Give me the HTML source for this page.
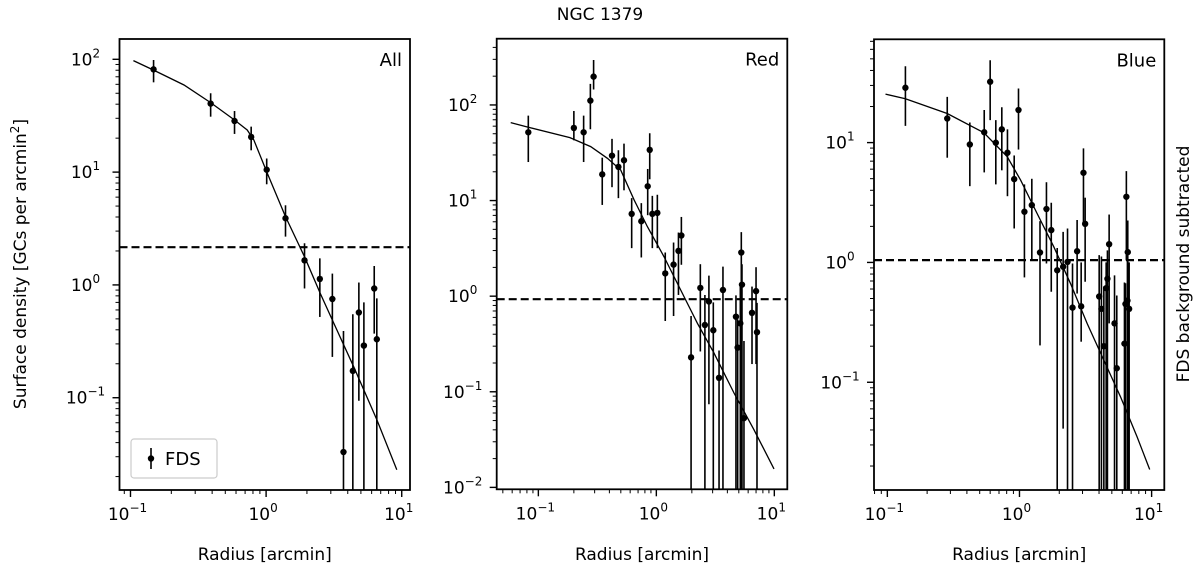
<!DOCTYPE html>
<html><head><meta charset="utf-8"><style>
body{margin:0;background:#fff}
svg text{font-family:"DejaVu Sans","Liberation Sans",sans-serif;fill:#000}
</style></head><body>
<svg id="fig" width="1200" height="573" viewBox="0 0 1200 573" xmlns="http://www.w3.org/2000/svg">
<text x="600" y="20" text-anchor="middle" font-size="17">NGC 1379</text>
<text transform="translate(26,264) rotate(-90)" text-anchor="middle" font-size="17">Surface density [GCs per arcmin<tspan dy="-7" font-size="12">2</tspan><tspan dy="7">]</tspan></text>
<text transform="translate(1189,264) rotate(-90)" text-anchor="middle" font-size="17">FDS background subtracted</text>
</svg>
<script>
// ---- Panel "All" data ----
const allR=[0.148,0.390,0.585,0.776,1.01,1.39,1.92,2.49,3.08,3.72,4.36,4.83,5.26,6.27,6.55];
const allD=[81.5,40.5,28.4,20.5,10.5,3.90,1.65,1.13,0.75,0.033,0.173,0.57,0.29,0.93,0.33];
const allHi=[98.6,50,34.8,25.3,13.2,5.08,2.34,1.72,1.26,0.39,0.55,1.05,0.70,1.47,0.76];
const allLo=[62.5,31,21.8,15.6,7.8,2.68,0.93,0.52,0.23,0,0,0.094,0,0.37,0];
const allFitR=[0.105,0.148,0.248,0.390,0.585,0.725,0.811,1.02,1.39,1.92,2.51,3.15,4.41,6.55,9.19];
const allFitD=[97.3,80.3,59.2,41.3,29.0,23.6,19.3,9.77,4.03,1.78,0.84,0.46,0.19,0.064,0.023];
const allBg=2.16;
// ---- Panel "Red" data ----
const redR=[0.0822,0.200,0.242,0.276,0.294,0.348,0.421,0.477,0.532,0.618,0.746,0.845,0.879,0.925,1.02,1.19,1.40,1.54,1.63,1.97,2.36,2.58,2.79,3.04,3.40,3.67,4.73,4.89,5.15,5.25,5.32,5.53,6.47,7.00,7.13];
const redD=[51.8,57.5,51.8,111,198,18.8,29.5,22.5,26.4,7.26,6.08,14.1,33.9,7.26,7.43,1.73,2.14,2.98,4.31,0.229,1.22,0.50,0.88,0.44,0.14,1.16,0.61,0.29,0.52,2.86,1.32,0.053,0.67,1.13,0.42];
const redHi=[77.4,86.5,77.4,166,295,28.1,44.2,33.6,39.4,10.6,9.4,21.4,50.6,11.2,11.5,2.86,3.64,4.63,6.74,0.62,2.16,1.03,1.64,0.86,0.27,2.04,1.02,0.57,1.26,4.67,2.16,0.34,1.26,2.01,0.85];
const redLo=[25.3,42.7,25.3,55.7,145,9.0,13.8,10.6,12.8,3.18,2.54,7.03,16.7,3.18,3.18,0.55,0.62,1.03,2.13,0,0.264,0,0.074,0,0,0,0,0,0,0,0,0,0.195,0.195,0];
const redFitR=[0.0583,0.0822,0.185,0.278,0.385,0.499,0.647,0.839,1.16,1.61,2.23,3.08,4.55,6.73,9.94];
const redFitD=[65.4,58.5,45.6,36.7,27.7,20.9,10.2,5.35,2.60,1.16,0.52,0.254,0.097,0.040,0.0156];
const redBg=0.93;
// ---- Panel "Blue" data ----
const blueR=[0.137,0.284,0.421,0.541,0.662,0.735,0.600,0.811,0.912,0.983,1.09,1.24,1.43,1.60,1.74,1.93,2.14,2.31,2.52,2.73,2.93,3.05,3.14,4.01,4.17,4.35,4.53,4.63,4.77,5.24,5.45,6.23,6.34,6.44,6.56,6.60,6.76];
const blueD=[28.7,15.9,9.65,12.2,9.97,12.9,32.2,8.23,4.96,18.7,2.65,3.01,1.21,2.79,1.86,0.86,0.92,1.01,0.42,1.24,0.43,5.60,2.10,0.52,0.41,0.20,0.61,0.73,1.42,0.31,0.131,0.21,0.45,3.53,0.48,1.22,0.41];
const blueHi=[43.4,24.1,14.7,18.7,15.4,19.7,48.7,12.9,7.81,28.3,4.48,4.99,2.21,4.67,3.15,1.32,1.80,1.92,0.98,2.26,1.0,8.95,3.47,1.15,1.12,0.63,1.0,1.26,2.51,0.78,0.53,0.68,0.67,5.78,1.26,2.24,1.0];
const blueLo=[13.8,7.48,4.33,5.64,4.48,5.87,15.4,3.57,1.92,8.75,0.75,1.04,0.203,0.98,0.57,0,0.041,0,0,0.55,0.218,2.14,0.69,0,0,0,0,0,0.31,0,0,0,0,1.04,0,0,0];
const blueFitR=[0.0968,0.137,0.284,0.537,0.807,1.02,1.36,1.82,2.43,3.25,4.35,5.81,7.77,9.68];
const blueFitD=[25.4,23.2,17.5,12.1,7.62,4.86,2.56,1.35,0.67,0.31,0.153,0.0757,0.035,0.0187];
const blueBg=1.045;

const NS='http://www.w3.org/2000/svg';
const svg=document.getElementById('fig');
function mk(tag,attrs,parent){const e=document.createElementNS(NS,tag);for(const k in attrs)e.setAttribute(k,attrs[k]);(parent||svg).appendChild(e);return e;}

function panel(o){
  const g=mk('g',{});
  
  
  const X=v=>o.L+(Math.log10(v)-o.xmin)/(o.xmax-o.xmin)*(o.R-o.L);
  const Y=v=>o.B-(Math.log10(v)-o.ymin)/(o.ymax-o.ymin)*(o.B-o.T);
  const clipId='clip-'+o.name;
  const cp=mk('clipPath',{id:clipId},g);mk('rect',{x:o.L,y:o.T,width:o.R-o.L,height:o.B-o.T},cp);
  const inner=mk('g',{'clip-path':'url(#'+clipId+')'},g);
  for(let d=Math.floor(o.xmin);d<=Math.ceil(o.xmax);d++){
    for(let m=1;m<10;m++){const lv=d+Math.log10(m);if(lv<o.xmin-1e-9||lv>o.xmax+1e-9)continue;
      const x=o.L+(lv-o.xmin)/(o.xmax-o.xmin)*(o.R-o.L);
      mk('line',{x1:x,x2:x,y1:o.B,y2:o.B+(m==1?7:4),stroke:'#000','stroke-width':m==1?1.4:1},g);
      if(m==1){const t=mk('text',{x:x-3,y:o.B+30,'text-anchor':'middle','font-size':'17'},g);
        
        
        t.innerHTML='10<tspan dy="-8" font-size="12">'+(d<0?'\u2212'+(-d):d)+'</tspan>';}
    }
  }
  for(let d=Math.floor(o.ymin);d<=Math.ceil(o.ymax);d++){
    for(let m=1;m<10;m++){const lv=d+Math.log10(m);if(lv<o.ymin-1e-9||lv>o.ymax+1e-9)continue;
      const y=o.B-(lv-o.ymin)/(o.ymax-o.ymin)*(o.B-o.T);
      mk('line',{x1:o.L,x2:o.L-(m==1?7:4),y1:y,y2:y,stroke:'#000','stroke-width':m==1?1.4:1},g);
      if(m==1){const t=mk('text',{x:o.L-34,y:y+6,'text-anchor':'middle','font-size':'17'},g);
        
        
        t.innerHTML='10<tspan dy="-8" font-size="12">'+(d<0?'\u2212'+(-d):d)+'</tspan>';}
    }
  }
  const bg=mk('line',{x1:o.L,x2:o.R,y1:Y(o.bg),y2:Y(o.bg),stroke:'#000','stroke-width':2.2,'stroke-dasharray':'8,4'},inner);
  
  
  const pts=o.fr.map((r,i)=>X(r).toFixed(1)+','+Y(o.fd[i]).toFixed(1)).join(' ');
  const fit=mk('polyline',{points:pts,fill:'none',stroke:'#000','stroke-width':1.3},inner);
  
  
  o.r.forEach((r,i)=>{
    const x=X(r);
    const lo=o.lo[i]>0?Y(o.lo[i]):o.B+2;
    const eb=mk('line',{x1:x,x2:x,y1:Y(o.hi[i]),y2:lo,stroke:'#000','stroke-width':1.6},inner);
    
    
    const c=mk('circle',{cx:x,cy:Y(o.d[i]),r:3.2,fill:'#000'},inner);
    
    
  });
  const fr=mk('rect',{x:o.L,y:o.T,width:o.R-o.L,height:o.B-o.T,fill:'none',stroke:'#000','stroke-width':1.8},g);
  
  
  const lab=mk('text',{x:o.R-8,y:o.T+27,'text-anchor':'end','font-size':'18'},g);
  lab.textContent=o.label;
  
  
  const xt=mk('text',{x:(o.L+o.R)/2,y:560,'text-anchor':'middle','font-size':'17'},g);
  xt.textContent='Radius [arcmin]';
  
  
  return g;
}
panel({name:'all',label:'All',L:119.5,R:410,T:39,B:490,xmin:-1.081,xmax:1.061,ymin:-1.818,ymax:2.18,r:allR,d:allD,hi:allHi,lo:allLo,fr:allFitR,fd:allFitD,bg:allBg});
panel({name:'red',label:'Red',L:496.7,R:787.3,T:38.7,B:489.3,xmin:-1.353,xmax:1.11,ymin:-2.02,ymax:2.693,r:redR,d:redD,hi:redHi,lo:redLo,fr:redFitR,fd:redFitD,bg:redBg});
panel({name:'blue',label:'Blue',L:874,R:1164.3,T:39.3,B:490,xmin:-1.101,xmax:1.096,ymin:-1.899,ymax:1.862,r:blueR,d:blueD,hi:blueHi,lo:blueLo,fr:blueFitR,fd:blueFitD,bg:blueBg});
const lg=mk('g',{});


mk('rect',{x:131,y:439,width:86,height:39,rx:3,fill:'#fff',stroke:'#ccc','stroke-width':1.2},lg);
mk('line',{x1:151,x2:151,y1:448,y2:469,stroke:'#000','stroke-width':1.6},lg);
mk('circle',{cx:151,cy:458.5,r:3.2,fill:'#000'},lg);
const lt=mk('text',{x:165,y:465,'font-size':'18'},lg);
lt.textContent='FDS';


</script>
</body></html>
